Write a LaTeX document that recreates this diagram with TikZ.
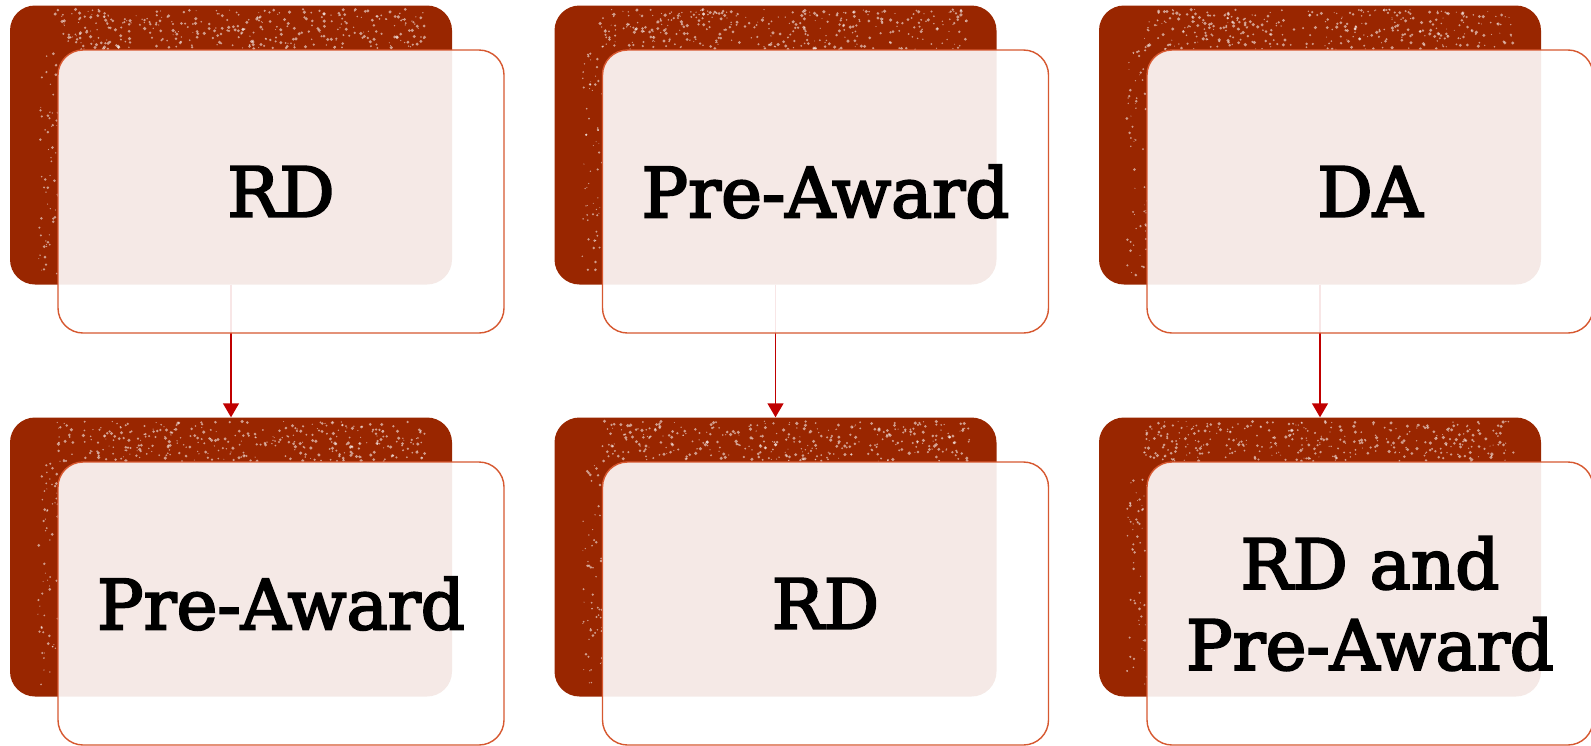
\documentclass[tikz,border=0pt]{standalone}
\usepackage{fontspec}
\setmainfont{DejaVu Serif}
\newfontfamily\cardfont[RawFeature={embolden=3}]{DejaVu Serif}
\usetikzlibrary{arrows.meta}
\definecolor{rust}{RGB}{153,38,0}
\definecolor{edgeorange}{RGB}{214,88,48}
\definecolor{arrowred}{RGB}{192,0,0}
\tikzset{
  backcard/.style = {fill=rust, rounded corners=25pt, minimum width=442pt, minimum height=279pt, inner sep=0pt},
  frontcard/.style = {draw=edgeorange, line width=1.4pt, fill=white, fill opacity=.9, text opacity=1,
    rounded corners=25pt, minimum width=446pt, minimum height=283pt, inner sep=0pt,
    align=center, font=\cardfont\fontsize{69}{81}\selectfont},
  speck/.style = {white, opacity=.55},
  flow/.style = {arrowred, line width=1.4pt, -{Triangle[width=16pt,length=14pt]}}
}
\begin{document}
\begin{tikzpicture}[x = 1pt, y = -1pt]
	\useasboundingbox (0,0) rectangle (1591,745);
	\pgfmathsetseed{17}
	\foreach \c/\toptext/\bottext in {0/RD/Pre-Award, 1/Pre-Award/RD, 2/DA/{RD and\\Pre-Award}} {
		\node[backcard] (d\c1) at (231+544.5*\c, 145) {}; % top back card
		\node[backcard] (d\c2) at (231+544.5*\c, 557) {}; % bottom back card
		\foreach \r in {1,2} {
			\begin{scope}[shift={(d\c\r.north west)}]
				\foreach \i in {1,...,360}
					\fill[speck] (45+370*rnd, 4+40*rnd) circle[radius={.5+1.3*rnd}]; % worn top band
				\foreach \i in {1,...,60}
					\fill[speck] (28+20*rnd, 45+225*rnd) circle[radius={.4+1.1*rnd}]; % worn left edge
			\end{scope}
		}
		\draw[flow] (d\c1.south) -- (d\c2.north);
		\node[frontcard] (f\c1) at (281+544.5*\c, 191.5) {\toptext};
		\node[frontcard] (f\c2) at (281+544.5*\c, 603.5) {\bottext};
	}
\end{tikzpicture}
\end{document}
